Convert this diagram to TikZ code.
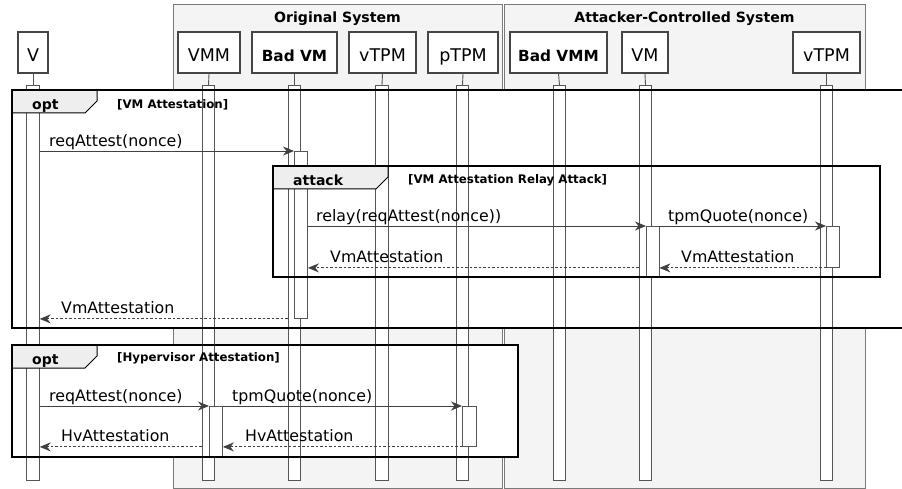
\documentclass[tikz,border=0pt]{standalone}
\usepackage{fontspec}
\setmainfont{DejaVu Sans}
\usetikzlibrary{arrows.meta}
\definecolor{grpfill}{HTML}{F4F4F4}
\definecolor{grpline}{HTML}{7A7A7A}
\definecolor{partline}{HTML}{454545}
\definecolor{barline}{HTML}{555555}
\definecolor{tabfill}{HTML}{EEEEEE}
\definecolor{msgline}{HTML}{404040}
\begin{document}
\begin{tikzpicture}[x=1pt,y=-1pt,
  grp/.style={draw=grpline, fill=grpfill, line width=1pt},
  grptitle/.style={anchor=base, inner sep=0pt, font=\fontsize{14.1}{17}\selectfont\bfseries},
  part/.style={draw=partline, fill=white, line width=1.3pt, minimum height=41pt, inner sep=0pt,
    text height=18pt, text depth=0pt, font=\fontsize{17.5}{20}\selectfont},
  partb/.style={part, font=\fontsize{15.3}{18}\selectfont\bfseries},
  lifebar/.style={draw=barline, fill=white, line width=0.9pt, minimum width=12.5pt, inner sep=0pt, anchor=north},
  actbar/.style={draw=barline, fill=white, line width=0.9pt, inner sep=0pt},
  stub/.style={draw=barline, line width=0.9pt},
  framebox/.style={draw=black, line width=2.8pt},
  tabshape/.style={draw=black, fill=tabfill, line width=1pt},
  tablabel/.style={anchor=base west, inner sep=0pt, font=\fontsize{14}{17}\selectfont\bfseries},
  condlabel/.style={anchor=base west, inner sep=0pt, font=\fontsize{11.8}{14}\selectfont\bfseries},
  msg/.style={draw=msgline, line width=0.9pt, -{Stealth[length=11pt,width=9pt,inset=3.5pt]}},
  ret/.style={msg, dash pattern=on 2.5pt off 2pt},
  mlabel/.style={anchor=base west, inner sep=0pt, font=\fontsize{15.8}{18}\selectfont}
]
\useasboundingbox (0,0) rectangle (902,489);
% groups
\draw[grp] (173,5) rectangle (502,488);
\draw[grp] (504,5) rectangle (865,488);
\node[grptitle] (g1) at (337.5,22.7) {Original System};
\node[grptitle] (g2) at (684.5,22.7) {Attacker-Controlled System};
% participants
\node[part, minimum width=30pt] (V) at (33,52.5) {V};
\node[part, minimum width=62pt] (VMM) at (209,52.5) {VMM};
\node[partb, minimum width=85pt] (BadVM) at (294.5,52.5) {Bad VM};
\node[part, minimum width=67pt] (vTPM) at (382.5,52.5) {vTPM};
\node[part, minimum width=70pt] (pTPM) at (463,52.5) {pTPM};
\node[partb, minimum width=97pt] (BadVMM) at (558.5,52.5) {Bad VMM};
\node[part, minimum width=46pt] (VM) at (645,52.5) {VM};
\node[part, minimum width=67pt] (vTPMb) at (826.5,52.5) {vTPM};
% frame fills
\fill[white] (12,90) rectangle (910,328);
\fill[white] (12,345) rectangle (518,457);
% lifelines
\foreach \n/\x in {V/33, VMM/208.5, BadVM/294.5, vTPM/382, pTPM/462.5, BadVMM/559.5, VM/645.5, vTPMb/826.5}{
  \node[lifebar, minimum height=395pt] (\n l) at (\x,85) {};
  \draw[stub] (\n.south) -- (\n l.north);
}
% activations
\node[actbar, minimum width=13pt, minimum height=167pt, anchor=north west] (aBadVM) at (294,151) {};
\node[actbar, minimum width=12.5pt, minimum height=51pt, anchor=north west] (aVM) at (646,226) {};
\node[actbar, minimum width=13pt, minimum height=41pt, anchor=north west] (aVTPMb) at (826,226) {};
\node[actbar, minimum width=13pt, minimum height=50pt, anchor=north west] (aVMM) at (209,406) {};
\node[actbar, minimum width=13.5pt, minimum height=40pt, anchor=north west] (aPTPM) at (462,406) {};
% frames
\draw[framebox] (12,90) rectangle (910,328);
\draw[tabshape] (12,90) -- (97,90) -- (97,101) -- (85,113) -- (12,113) -- cycle;
\draw[framebox] (273,166) rectangle (880,277);
\draw[tabshape] (273,166) -- (388,166) -- (388,177) -- (376,189) -- (273,189) -- cycle;
\draw[framebox] (12,345) rectangle (518,457);
\draw[tabshape] (12,345) -- (97,345) -- (97,356) -- (85,368) -- (12,368) -- cycle;
% frame borders over tabs
\draw[framebox] (12,90) rectangle (910,328);
\draw[framebox] (273,166) rectangle (880,277);
\draw[framebox] (12,345) rectangle (518,457);
\node[tablabel] (opt1) at (32,109.3) {opt};
\node[condlabel] (c1) at (117,108.2) {[VM Attestation]};
\node[tablabel] (att) at (293,185.8) {attack};
\node[condlabel] (c2) at (408,183.3) {[VM Attestation Relay Attack]};
\node[tablabel] (opt2) at (32,364) {opt};
\node[condlabel] (c3) at (117,361.3) {[Hypervisor Attestation]};
% messages
\draw[msg] (Vl.east |- aBadVM.north) -- (aBadVM.north west);
\node[mlabel] (l1) at (49,146.5) {reqAttest(nonce)};
\draw[msg] (aBadVM.east |- aVM.north) -- (aVM.north west);
\node[mlabel] (l2) at (316,221.5) {relay(reqAttest(nonce))};
\draw[msg] (aVM.north east) -- (aVTPMb.north west);
\node[mlabel] (l3) at (668,221.5) {tpmQuote(nonce)};
\draw[ret] (aVTPMb.south west) -- (aVM.east |- aVTPMb.south);
\node[mlabel] (l4) at (681,262.5) {VmAttestation};
\draw[ret] (VMl.west |- aVTPMb.south) -- (aBadVM.east |- aVTPMb.south);
\node[mlabel] (l5) at (330,262.5) {VmAttestation};
\draw[ret] (BadVMl.west |- aBadVM.south) -- (Vl.east |- aBadVM.south);
\node[mlabel] (l6) at (61,313.5) {VmAttestation};
\draw[msg] (Vl.east |- aVMM.north) -- (aVMM.north west);
\node[mlabel] (l7) at (49,401.5) {reqAttest(nonce)};
\draw[msg] (aVMM.north east) -- (aPTPM.north west);
\node[mlabel] (l8) at (232,401.5) {tpmQuote(nonce)};
\draw[ret] (aPTPM.south west) -- (aVMM.east |- aPTPM.south);
\node[mlabel] (l9) at (245,441.5) {HvAttestation};
\draw[ret] (VMMl.west |- aPTPM.south) -- (Vl.east |- aPTPM.south);
\node[mlabel] (l10) at (61,441.5) {HvAttestation};
\end{tikzpicture}
\end{document}
